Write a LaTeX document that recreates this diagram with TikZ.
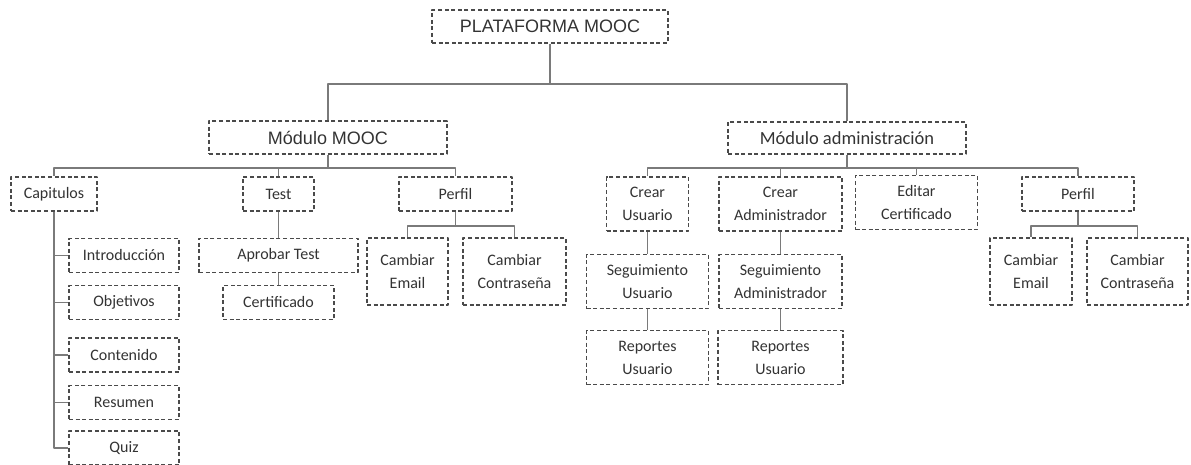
\documentclass[tikz,border=0pt]{standalone}
\usepackage{fontspec}
\setmainfont{Carlito}
\newfontfamily\arialfont{Liberation Sans}
\definecolor{textcol}{HTML}{333333}
\definecolor{edgecol}{HTML}{4A4A4A}
\definecolor{linkcol}{HTML}{7A7A7A}
\begin{document}
\begin{tikzpicture}[x=1pt,y=-1pt,line join=round]
	\tikzset{box/.style={draw=edgecol,line width=1.5pt,dash pattern=on 4pt off 2.6pt,align=center,inner sep=0pt,text=textcol,font=\fontsize{16}{23}\selectfont},
		one/.style={box,minimum height=34pt},
		two/.style={box,minimum height=54pt},
		tall/.style={box,minimum height=67pt},
		link/.style={draw=linkcol,line width=1.3pt}}
	\useasboundingbox (0,0) rectangle (1191,465);
	\node[box,minimum width=236pt,minimum height=33pt,font=\arialfont\fontsize{18}{20}\selectfont] (plat) at (550,26.5) {PLATAFORMA MOOC};
	\node[box,minimum width=238pt,minimum height=33pt,font=\arialfont\fontsize{18}{20}\selectfont] (mooc) at (328,137.5) {Módulo MOOC};
	\node[box,minimum width=238pt,minimum height=32pt,font=\fontsize{18.5}{22}\selectfont] (admin) at (847,138) {Módulo administración};
	\node[one,minimum width=86pt] (cap) at (54,194) {Capitulos};
	\node[one,minimum width=71pt] (test) at (278.5,194) {Test};
	\node[one,minimum width=113pt] (perfilA) at (455.5,194) {Perfil};
	\node[one,minimum width=110pt] (intro) at (124,255.5) {Introducción};
	\node[one,minimum width=110pt] (obj) at (124,302.5) {Objetivos};
	\node[one,minimum width=110pt] (cont) at (124,355) {Contenido};
	\node[one,minimum width=110pt] (res) at (124,402.5) {Resumen};
	\node[one,minimum width=110pt] (quiz) at (124,448) {Quiz};
	\node[one,minimum width=159pt] (aprob) at (278.5,255.5) {Aprobar Test};
	\node[one,minimum width=111pt] (cert) at (278.5,302.5) {Certificado};
	\node[tall,minimum width=81pt] (emailA) at (407.5,271.5) {Cambiar\\Email};
	\node[tall,minimum width=103pt] (passA) at (514.5,271.5) {Cambiar\\Contraseña};
	\node[two,minimum width=82pt] (crearU) at (647.5,204) {Crear\\Usuario};
	\node[two,minimum width=123pt] (crearA) at (780.5,204) {Crear\\Administrador};
	\node[two,minimum width=122pt] (editar) at (916.5,202.5) {Editar\\Certificado};
	\node[one,minimum width=112pt] (perfilB) at (1078,194) {Perfil};
	\node[tall,minimum width=82pt] (emailB) at (1031,271.5) {Cambiar\\Email};
	\node[tall,minimum width=101pt] (passB) at (1137.5,271.5) {Cambiar\\Contraseña};
	\node[two,minimum width=122pt] (segU) at (647.5,281.5) {Seguimiento\\Usuario};
	\node[two,minimum width=123pt] (segA) at (780.5,281.5) {Seguimiento\\Administrador};
	\node[two,minimum width=122pt] (repU) at (647.5,357.5) {Reportes\\Usuario};
	\node[two,minimum width=125pt] (repA) at (780.5,357.5) {Reportes\\Usuario};
	\coordinate (bus0) at (550,84);
	\coordinate (bus1) at (328,168);
	\coordinate (bus2) at (847,168);
	\coordinate (bus3) at (455.5,226);
	\coordinate (bus4) at (1078,226);
	\draw[link] (plat) -- (bus0);
	\foreach \n in {mooc,admin} \draw[link] (bus0) -| (\n);
	\draw[link] (mooc) -- (bus1);
	\foreach \n in {cap,test,perfilA} \draw[link] (bus1) -| (\n);
	\draw[link] (admin) -- (bus2);
	\foreach \n in {crearU,crearA,editar,perfilB} \draw[link] (bus2) -| (\n);
	\foreach \n in {intro,obj,cont,res,quiz} \draw[link] (cap.south) |- (\n.west);
	\draw[link] (test) -- (aprob);
	\draw[link] (aprob) -- (cert);
	\draw[link] (perfilA) -- (bus3);
	\foreach \n in {emailA,passA} \draw[link] (bus3) -| (\n);
	\draw[link] (perfilB) -- (bus4);
	\foreach \n in {emailB,passB} \draw[link] (bus4) -| (\n);
	\draw[link] (crearU) -- (segU);
	\draw[link] (segU) -- (repU);
	\draw[link] (crearA) -- (segA);
	\draw[link] (segA) -- (repA);
\end{tikzpicture}
\end{document}
